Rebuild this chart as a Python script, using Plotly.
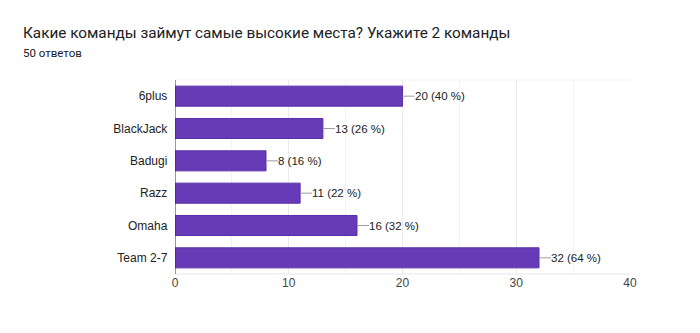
import plotly.graph_objects as go

teams = ["6plus", "BlackJack", "Badugi", "Razz", "Omaha", "Team 2-7"]
votes = [20, 13, 8, 11, 16, 32]
total_responses = 50
x_ticks = [0, 10, 20, 30, 40]

title_text = "Какие команды займут самые высокие места? Укажите 2 команды"
subtitle_text = f"{total_responses} ответов"

labels = [f"{v} ({round(v * 100 / total_responses)} %)" for v in votes]

W, H = 700, 333
ML, MR, MT, MB = 175, 70, 80, 59
PW, PH = W - ML - MR, H - MT - MB


def px_to_paper(px, py):
    """Convert page pixel position to paper coordinates of the plot area."""
    return (px - ML) / PW, 1 - (py - MT) / PH


fig = go.Figure()
fig.add_trace(go.Bar(
    y=teams, x=votes, orientation="h",
    marker=dict(color="#673ab7", line=dict(color="#5a2fa6", width=1)),
    hoverinfo="skip", width=0.62,
))

# connector stubs and value labels at the end of each bar
for t, v, lab in zip(teams, votes, labels):
    fig.add_shape(type="line", xref="x", yref="y", xsizemode="pixel",
                  xanchor=v, x0=0, x1=12, y0=t, y1=t,
                  line=dict(color="#9e9e9e", width=1))
    fig.add_annotation(x=v, y=t, xref="x", yref="y", text=lab, showarrow=False,
                       xanchor="left", xshift=10,
                       font=dict(family="Arial, Liberation Sans", size=11.5, color="#222222"))

tx, ty = px_to_paper(21, 33)
fig.add_annotation(text=title_text, x=tx, y=ty, xref="paper", yref="paper",
                   showarrow=False, xanchor="left", yanchor="middle",
                   font=dict(family="Roboto", size=15.3, color="#202124"))
sx, sy = px_to_paper(21, 53)
fig.add_annotation(text=subtitle_text, x=sx, y=sy, xref="paper", yref="paper",
                   showarrow=False, xanchor="left", yanchor="middle",
                   font=dict(family="Roboto", size=11.5, color="#202124"))

fig.update_layout(
    width=W, height=H,
    margin=dict(l=ML, r=MR, t=MT, b=MB),
    paper_bgcolor="white", plot_bgcolor="white",
    showlegend=False,
    xaxis=dict(
        range=[0, 40], tickvals=x_ticks, showgrid=True, gridcolor="#ebebeb",
        minor=dict(dtick=5, showgrid=True, gridcolor="#f3f3f3"),
        zeroline=False, showline=False, ticks="",
        tickfont=dict(family="Arial, Liberation Sans", size=12, color="#444444"),
        fixedrange=True,
    ),
    yaxis=dict(
        autorange="reversed", showgrid=False, zeroline=False, ticks="",
        tickfont=dict(family="Arial, Liberation Sans", size=12, color="#222222"),
        ticksuffix="  ", fixedrange=True,
    ),
)

# axis baseline at zero and light bottom/top frame
fig.add_shape(type="line", xref="x", yref="paper", x0=0, x1=0, y0=0, y1=1,
              line=dict(color="#333333", width=1))
fig.add_shape(type="line", xref="paper", yref="paper", x0=0, x1=1, y0=0, y1=0,
              line=dict(color="#e6e6e6", width=1), layer="below")
fig.add_shape(type="line", xref="paper", yref="paper", x0=0, x1=1, y0=1, y1=1,
              line=dict(color="#f3f3f3", width=1), layer="below")

fig.write_html("out.html")
